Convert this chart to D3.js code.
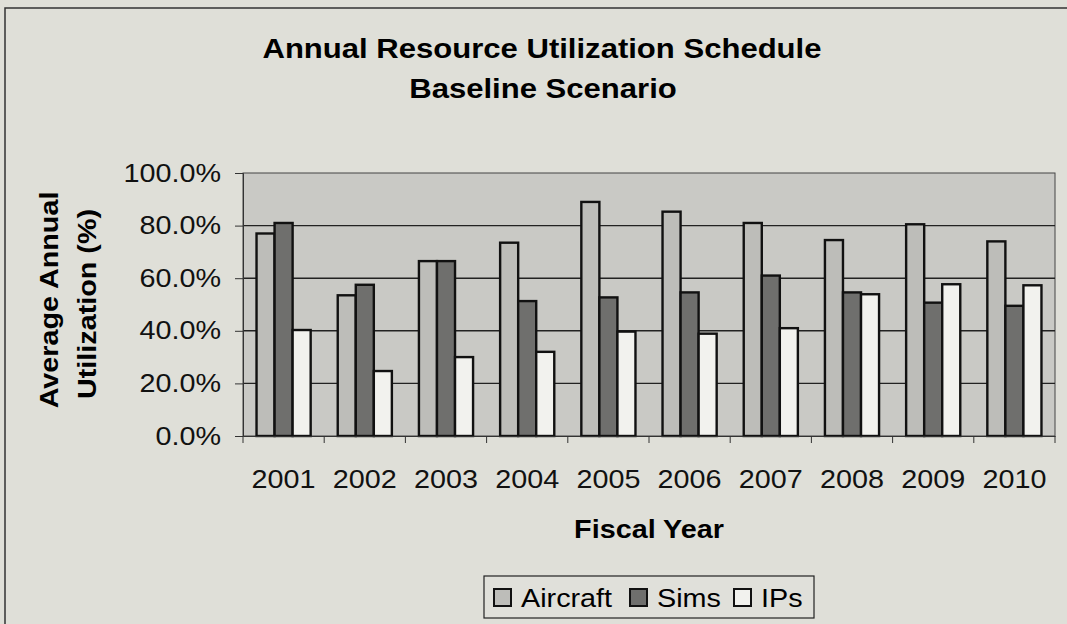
<!DOCTYPE html>
<html>
<head>
<meta charset="utf-8">
<script src="https://cdn.jsdelivr.net/npm/d3@7"></script>
<style>
  body { margin: 0; background: #dfdfd8; }
  svg { display: block; font-family: "Liberation Sans", Arial, sans-serif; }
</style>
</head>
<body>
<svg width="1067" height="624"></svg>
<script>
const years = ["2001", "2002", "2003", "2004", "2005", "2006", "2007", "2008", "2009", "2010"];
const seriesNames = ["Aircraft", "Sims", "IPs"];
const aircraft = [77, 53.5, 66.5, 73.5, 89, 85.3, 81, 74.5, 80.5, 74];
const sims = [81, 57.5, 66.5, 51.3, 52.7, 54.6, 61, 54.6, 50.7, 49.5];
const ips = [40.3, 24.7, 30, 32, 39.7, 38.9, 41, 53.9, 57.7, 57.3];
const yTicks = [0, 20, 40, 60, 80, 100];

const fills = { Aircraft: "#bdbdb9", Sims: "#6f6f6d", IPs: "#f2f2ee" };
const WIDE = 1.15; // scanned font runs wider than Liberation Sans

const svg = d3.select("svg");
const margin = { left: 243, right: 1055, top: 173, bottom: 436 };

// stretch text horizontally to match the wider face
const stretch = sel => sel.each(function () {
  const len = this.getComputedTextLength();
  this.setAttribute("textLength", len * WIDE);
  this.setAttribute("lengthAdjust", "spacingAndGlyphs");
});

// outer frame (only top and left edges show in the scan)
svg.append("path")
  .attr("d", "M5,624 L5,8 L1067,8")
  .attr("fill", "none").attr("stroke", "#333").attr("stroke-width", 1.5);

svg.append("text").attr("x", 542).attr("y", 58).attr("text-anchor", "middle")
  .attr("font-size", 27).attr("font-weight", "bold").text("Annual Resource Utilization Schedule").call(stretch);
svg.append("text").attr("x", 543).attr("y", 98).attr("text-anchor", "middle")
  .attr("font-size", 27).attr("font-weight", "bold").text("Baseline Scenario").call(stretch);

const x = d3.scaleBand().domain(years).range([margin.left, margin.right]);
const inner = d3.scaleBand().domain(seriesNames)
  .range([x.bandwidth() * 0.75 / 4.5, x.bandwidth() - x.bandwidth() * 0.75 / 4.5]);
const y = d3.scaleLinear().domain([0, 100]).range([margin.bottom, margin.top]);

// plot area
svg.append("rect")
  .attr("x", margin.left).attr("y", margin.top)
  .attr("width", margin.right - margin.left).attr("height", margin.bottom - margin.top)
  .attr("fill", "#c9c9c5").attr("stroke", "#444").attr("stroke-width", 1);

svg.append("g").selectAll("line").data(yTicks.slice(1, -1)).join("line")
  .attr("x1", margin.left).attr("x2", margin.right)
  .attr("y1", d => y(d)).attr("y2", d => y(d))
  .attr("stroke", "#222").attr("stroke-width", 1.4);

const rows = years.map((yr, i) => ({ year: yr, Aircraft: aircraft[i], Sims: sims[i], IPs: ips[i] }));

svg.append("g").selectAll("g").data(rows).join("g")
  .attr("transform", d => `translate(${x(d.year)},0)`)
  .selectAll("rect").data(d => seriesNames.map(s => ({ s, v: d[s] }))).join("rect")
  .attr("x", d => inner(d.s)).attr("width", inner.bandwidth())
  .attr("y", d => y(d.v)).attr("height", d => y(0) - y(d.v))
  .attr("fill", d => fills[d.s]).attr("stroke", "#111").attr("stroke-width", 2.4);

// y axis
const yAxis = svg.append("g").attr("transform", `translate(${margin.left},0)`)
  .call(d3.axisLeft(y).tickValues(yTicks).tickSize(8).tickPadding(14).tickFormat(d => d.toFixed(1) + "%"));
yAxis.selectAll("text").attr("font-size", 25).attr("fill", "#111")
  .attr("font-family", "Liberation Sans, Arial, sans-serif").call(stretch);
yAxis.selectAll("line, path").attr("stroke", "#333");

// x axis
const xAxis = svg.append("g").attr("transform", `translate(0,${margin.bottom})`)
  .call(d3.axisBottom(x).tickSize(0).tickPadding(34));
xAxis.selectAll("text").attr("font-size", 25).attr("fill", "#111")
  .attr("font-family", "Liberation Sans, Arial, sans-serif").call(stretch);
xAxis.select("path").attr("stroke", "#333");
svg.append("g").selectAll("line").data(d3.range(years.length + 1)).join("line")
  .attr("x1", i => margin.left + i * x.step()).attr("x2", i => margin.left + i * x.step())
  .attr("y1", margin.bottom).attr("y2", margin.bottom + 7)
  .attr("stroke", "#333");

// axis titles
svg.append("text").attr("x", 649).attr("y", 538).attr("text-anchor", "middle")
  .attr("font-size", 25).attr("font-weight", "bold").text("Fiscal Year").call(stretch);
svg.append("text").attr("transform", "translate(58,300) rotate(-90)")
  .attr("text-anchor", "middle").attr("font-size", 25).attr("font-weight", "bold")
  .text("Average Annual").call(stretch);
svg.append("text").attr("transform", "translate(96,304) rotate(-90)")
  .attr("text-anchor", "middle").attr("font-size", 25).attr("font-weight", "bold")
  .text("Utilization (%)").call(stretch);

// legend
const legend = svg.append("g");
legend.append("rect").attr("x", 484).attr("y", 576).attr("width", 330).attr("height", 42)
  .attr("fill", "#e0e0da").attr("stroke", "#222").attr("stroke-width", 1.2);
const lx = [494, 630, 734];
const items = legend.selectAll("g").data(seriesNames).join("g")
  .attr("transform", (d, i) => `translate(${lx[i]},0)`);
items.append("rect").attr("x", 0).attr("y", 589).attr("width", 17).attr("height", 17)
  .attr("fill", d => fills[d]).attr("stroke", "#111").attr("stroke-width", 2);
items.append("text").attr("x", 27).attr("y", 607).attr("font-size", 25).text(d => d).call(stretch);
</script>
</body>
</html>
